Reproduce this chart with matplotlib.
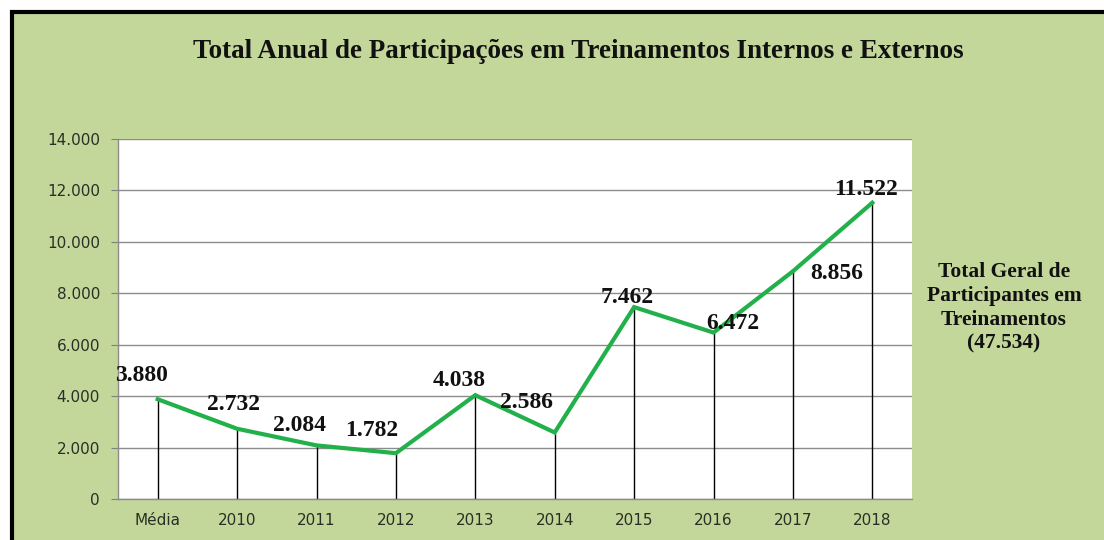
import matplotlib.pyplot as plt
from matplotlib.patches import Rectangle

# data
categories = ["Média", "2010", "2011", "2012", "2013", "2014", "2015", "2016", "2017", "2018"]
values = [3880, 2732, 2084, 1782, 4038, 2586, 7462, 6472, 8856, 11522]
value_labels = ["3.880", "2.732", "2.084", "1.782", "4.038", "2.586", "7.462", "6.472", "8.856", "11.522"]
y_ticks = [0, 2000, 4000, 6000, 8000, 10000, 12000, 14000]
y_tick_labels = ["0", "2.000", "4.000", "6.000", "8.000", "10.000", "12.000", "14.000"]

# label offsets in pixels (dx, dy) relative to each point
label_offsets = [(-16, 24), (-4, 24), (-17, 20), (-24, 23), (-16, 15),
                 (-28, 30), (-7, 10), (19, 9), (44, -2), (-6, 13)]

bg_green = "#C4D79B"
line_green = "#22B04B"
serif = "Liberation Serif"

fig = plt.figure(figsize=(11.04, 5.40), dpi=100, facecolor="white")

# green panel with thick black border (cropped at right and bottom)
W, H = 1104.0, 540.0
panel = Rectangle((12 / W, -0.05), 1.2, 1 - 11.5 / H + 0.05, transform=fig.transFigure,
                  facecolor=bg_green, edgecolor="black", linewidth=3, zorder=-1)
fig.patches.append(panel)

ax = fig.add_axes([118 / W, 41 / H, 794 / W, 360 / H])
ax.set_facecolor("white")

x = list(range(len(categories)))
ax.vlines(x, 0, values, color="black", linewidth=1, zorder=2)
ax.plot(x, values, color=line_green, linewidth=3, zorder=3, solid_joinstyle="miter")

for i, (v, lab) in enumerate(zip(values, value_labels)):
    dx, dy = label_offsets[i]
    ax.annotate(lab, (i, v), xytext=(dx, dy), textcoords="offset pixels",
                ha="center", va="center", fontsize=17, fontweight="bold",
                family=serif, color="#111111", zorder=4)

ax.set_xlim(-0.5, len(categories) - 0.5)
ax.set_ylim(0, 14000)
ax.set_yticks(y_ticks)
ax.set_yticklabels(y_tick_labels)
ax.set_xticks(x)
ax.set_xticklabels(categories)
ax.tick_params(axis="y", length=5, color="#808080", labelsize=11, labelcolor="#2a2f25", pad=8)
ax.tick_params(axis="x", length=0, labelsize=11, labelcolor="#2a2f25", pad=10)

ax.grid(axis="y", color="#8c8c8c", linewidth=1)
ax.set_axisbelow(True)
for side in ["top", "right"]:
    ax.spines[side].set_visible(False)
for side in ["left", "bottom"]:
    ax.spines[side].set_color("#8c8c8c")
    ax.spines[side].set_linewidth(1)

fig.text(578 / W, 1 - 52 / H, "Total Anual de Participações em Treinamentos Internos e Externos",
         ha="center", va="center", fontsize=19.5, fontweight="bold", family=serif, color="#111111")

fig.text(1004 / W, 1 - 308 / H, "Total Geral de\nParticipantes em\nTreinamentos\n(47.534)",
         ha="center", va="center", fontsize=15.5, fontweight="bold", family=serif,
         color="#111111", linespacing=1.25)

fig.savefig("out.png", dpi=100, facecolor=fig.get_facecolor())
